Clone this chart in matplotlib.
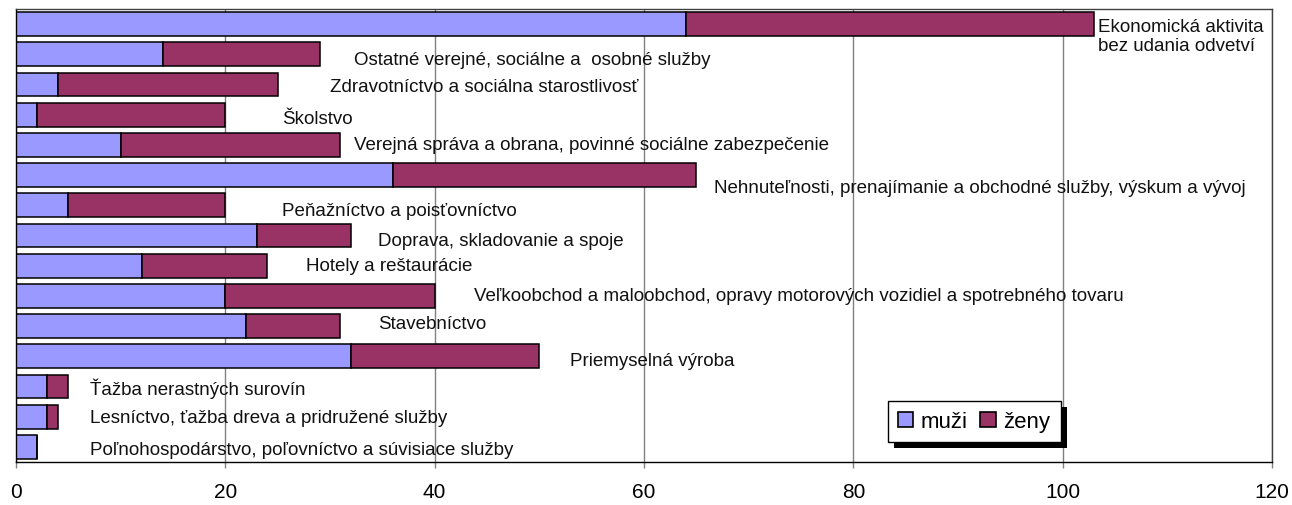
import matplotlib
matplotlib.use('Agg')
import matplotlib.pyplot as plt
import numpy as np
from matplotlib.patches import Rectangle
from matplotlib.transforms import IdentityTransform

plt.rcParams['font.family'] = ['Liberation Sans', 'DejaVu Sans']

# odvetvia, zhora nadol
categories = [
    'Ekonomická aktivita\nbez udania odvetví',
    'Ostatné verejné, sociálne a  osobné služby',
    'Zdravotníctvo a sociálna starostlivosť',
    'Školstvo',
    'Verejná správa a obrana, povinné sociálne zabezpečenie',
    'Nehnuteľnosti, prenajímanie a obchodné služby, výskum a vývoj',
    'Peňažníctvo a poisťovníctvo',
    'Doprava, skladovanie a spoje',
    'Hotely a reštaurácie',
    'Veľkoobchod a maloobchod, opravy motorových vozidiel a spotrebného tovaru',
    'Stavebníctvo',
    'Priemyselná výroba',
    'Ťažba nerastných surovín',
    'Lesníctvo, ťažba dreva a pridružené služby',
    'Poľnohospodárstvo, poľovníctvo a súvisiace služby',
]
muzi = [64, 14, 4, 2, 10, 36, 5, 23, 12, 20, 22, 32, 3, 3, 2]
zeny = [39, 15, 21, 18, 21, 29, 15, 9, 12, 20, 9, 18, 2, 1, 0]
x_ticks = [0, 20, 40, 60, 80, 100, 120]

# umiestnenie popisov (x v jednotkach osi, posun y v rozostupoch stlpcov)
label_x = [103.4, 32.3, 30.0, 25.4, 32.3, 66.7, 25.4, 34.6, 27.7, 43.8, 34.6, 52.9, 7.1, 7.1, 7.1]
label_dy = [0.39, 0.16, 0.08, 0.14, 0.0, 0.4, 0.16, 0.15, 0.0, 0.0, -0.07, 0.15, 0.05, 0.04, 0.07]

col_m = '#9999FF'
col_z = '#993366'

fig = plt.figure(figsize=(12.92, 5.06), dpi=100)
ax = fig.add_axes([16 / 1292, 1 - 463 / 506, 1256 / 1292, 453 / 506])

y = np.arange(len(categories))
ax.barh(y, muzi, height=0.79, color=col_m, edgecolor='black', linewidth=1.1, label='muži')
ax.barh(y, zeny, left=muzi, height=0.79, color=col_z, edgecolor='black', linewidth=1.1, label='ženy')

for i, txt in enumerate(categories):
    ax.text(label_x[i], y[i] + label_dy[i], txt, ha='left', va='center',
            fontsize=13.5, linespacing=1.15, zorder=3, color='#111111')

ax.set_xlim(0, 120)
ax.set_ylim(len(categories) - 0.5, -0.5)
ax.set_xticks(x_ticks)
ax.set_yticks([])
ax.set_axisbelow(True)
ax.grid(axis='x', color='#808080', linewidth=1.0)
ax.tick_params(axis='x', direction='out', length=4.5, width=1.0, color='#808080',
               labelsize=15, pad=10)

for s in ['left', 'bottom']:
    ax.spines[s].set_color('black')
    ax.spines[s].set_linewidth(1.0)
for s in ['top', 'right']:
    ax.spines[s].set_color('#404040')
    ax.spines[s].set_linewidth(1.0)

leg = ax.legend(loc='lower left', bbox_to_anchor=(0.694, 0.044), borderaxespad=0,
                ncol=2, fontsize=16, frameon=True, fancybox=False, framealpha=1,
                edgecolor='black', handlelength=0.7, handleheight=0.7,
                handletextpad=0.35, columnspacing=0.55, borderpad=0.45)
leg.get_frame().set_linewidth(1.0)
for h in leg.legend_handles:
    h.set_linewidth(1.2)

# tien legendy
fig.canvas.draw()
bb = leg.get_window_extent(fig.canvas.get_renderer())
shadow = Rectangle((bb.x0 + 6, bb.y0 - 6), bb.width, bb.height, transform=IdentityTransform(),
                   facecolor='black', edgecolor='none', zorder=4.9, clip_on=False)
ax.add_artist(shadow)

fig.savefig('out.png', dpi=100)
